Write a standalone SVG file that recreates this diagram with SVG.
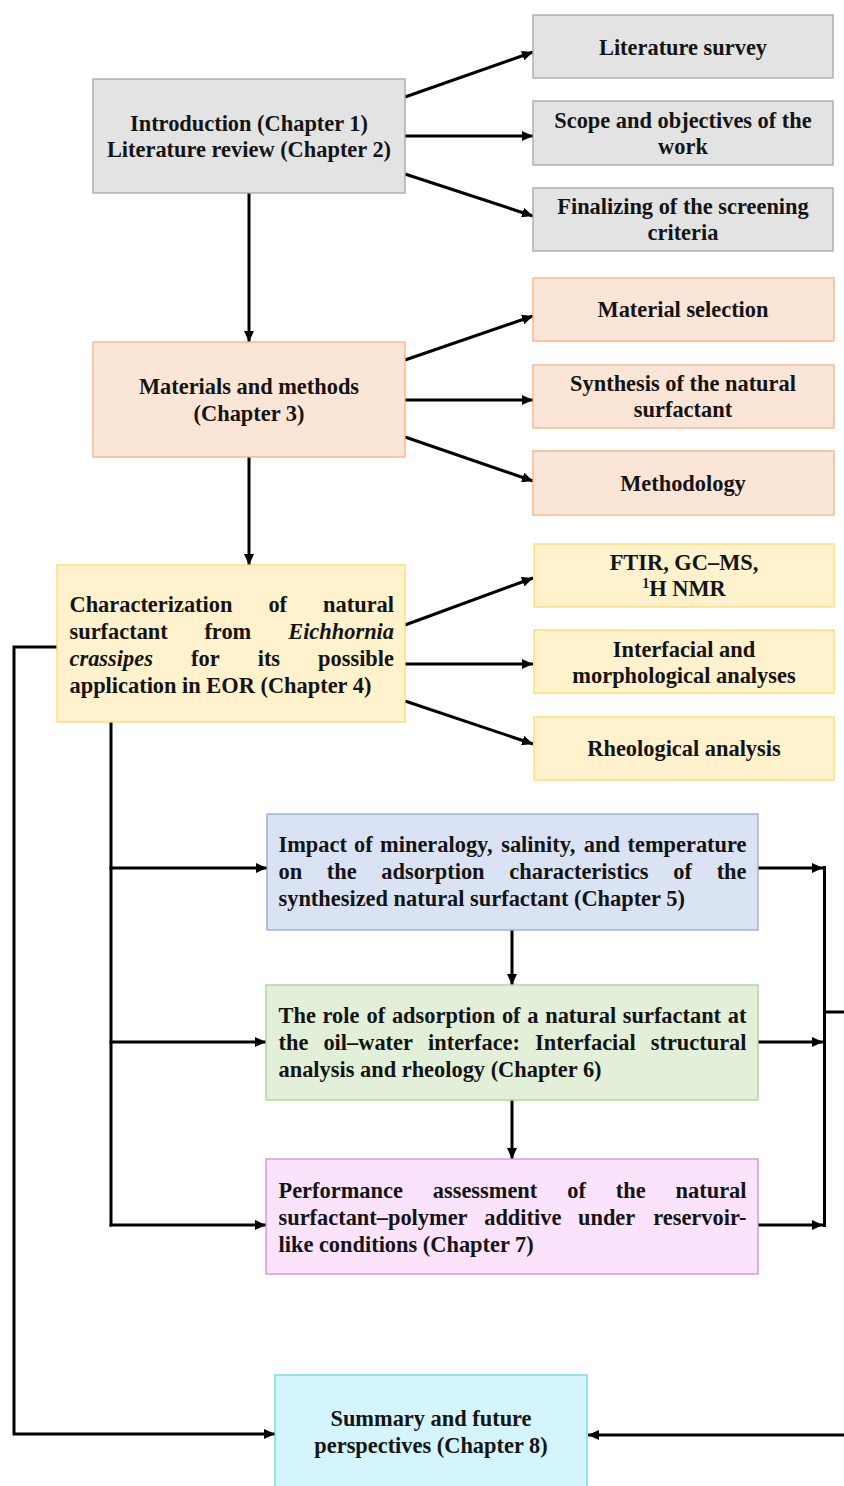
<svg xmlns="http://www.w3.org/2000/svg" width="844" height="1486" viewBox="0 0 844 1486">
<style>
.t{font-family:"Liberation Serif","Times New Roman",serif;font-weight:bold;font-size:22.4px;fill:#141414}
.c{text-anchor:middle}
.e{text-anchor:end}
.i{font-style:italic}
.b{stroke-width:1.3}
.gray{fill:#e4e3e3;stroke:#a6a6a6}
.peach{fill:#fbe5d6;stroke:#f4b183}
.yel{fill:#fff2cc;stroke:#ffd966}
.blue{fill:#dae3f3;stroke:#8faadc}
.green{fill:#e2f0d9;stroke:#a9d18e}
.pink{fill:#fbe3fb;stroke:#d58bd5}
.cyan{fill:#d3f5fb;stroke:#6dd3e3}
.ln{stroke:#000;stroke-width:3;fill:none}
.ar{marker-end:url(#ah)}
</style>
<defs>
<marker id="ah" markerUnits="userSpaceOnUse" markerWidth="11" markerHeight="10" refX="11" refY="5" orient="auto">
<path d="M0,0 L11,5 L0,10 z" fill="#000"/>
</marker>
</defs>
<rect width="844" height="1486" fill="#fff"/>

<g id="connectors">
<line class="ln ar" x1="405" y1="97" x2="533" y2="52"/>
<line class="ln ar" x1="405" y1="136" x2="533" y2="136"/>
<line class="ln ar" x1="405" y1="174" x2="533" y2="216"/>
<line class="ln ar" x1="249" y1="193" x2="249" y2="342"/>
<line class="ln ar" x1="405" y1="360" x2="533" y2="316"/>
<line class="ln ar" x1="405" y1="400" x2="533" y2="400"/>
<line class="ln ar" x1="405" y1="437" x2="533" y2="481"/>
<line class="ln ar" x1="249" y1="457" x2="249" y2="565"/>
<line class="ln ar" x1="405" y1="625" x2="533" y2="578"/>
<line class="ln ar" x1="405" y1="664" x2="533" y2="664"/>
<line class="ln ar" x1="405" y1="701" x2="533" y2="744"/>
<polyline class="ln ar" points="57,647 14,647 14,1434 275,1434"/>
<line class="ln" x1="111" y1="722" x2="111" y2="1226.5"/>
<line class="ln ar" x1="109.5" y1="868" x2="267" y2="868"/>
<line class="ln ar" x1="109.5" y1="1042" x2="266" y2="1042"/>
<line class="ln ar" x1="109.5" y1="1225" x2="266" y2="1225"/>
<line class="ln ar" x1="512" y1="930" x2="512" y2="985"/>
<line class="ln ar" x1="512" y1="1100" x2="512" y2="1159"/>
<line class="ln ar" x1="758" y1="868" x2="823" y2="868"/>
<line class="ln ar" x1="758" y1="1042" x2="823" y2="1042"/>
<line class="ln ar" x1="758" y1="1225" x2="823" y2="1225"/>
<line class="ln" x1="824.5" y1="866" x2="824.5" y2="1227"/>
<line class="ln" x1="824.5" y1="1012" x2="844" y2="1012"/>
<line class="ln ar" x1="844" y1="1435" x2="588" y2="1435"/>
</g>

<g id="intro">
<rect class="b gray" x="93" y="79" width="312" height="114"/>
<text class="t c" x="249" y="131">Introduction (Chapter 1)</text>
<text class="t c" x="249" y="157">Literature review (Chapter 2)</text>
</g>
<g id="lit-survey">
<rect class="b gray" x="533" y="15" width="300" height="63"/>
<text class="t c" x="683" y="55">Literature survey</text>
</g>
<g id="scope">
<rect class="b gray" x="533" y="101" width="300" height="64"/>
<text class="t c" x="683" y="128">Scope and objectives of the</text>
<text class="t c" x="683" y="154">work</text>
</g>
<g id="finalizing">
<rect class="b gray" x="533" y="188" width="300" height="63"/>
<text class="t c" x="683" y="214">Finalizing of the screening</text>
<text class="t c" x="683" y="240">criteria</text>
</g>

<g id="materials-methods">
<rect class="b peach" x="93" y="342" width="312" height="115"/>
<text class="t c" x="249" y="394">Materials and methods</text>
<text class="t c" x="249" y="421">(Chapter 3)</text>
</g>
<g id="material-selection">
<rect class="b peach" x="533" y="278" width="301" height="63"/>
<text class="t c" x="683" y="317">Material selection</text>
</g>
<g id="synthesis">
<rect class="b peach" x="533" y="365" width="301" height="63"/>
<text class="t c" x="683" y="391">Synthesis of the natural</text>
<text class="t c" x="683" y="417">surfactant</text>
</g>
<g id="methodology">
<rect class="b peach" x="533" y="451" width="301" height="64"/>
<text class="t c" x="683" y="491">Methodology</text>
</g>

<g id="characterization">
<rect class="b yel" x="57" y="565" width="348" height="157"/>
<text class="t" x="69.5" y="612">Characterization</text>
<text class="t" x="268.4" y="612">of</text>
<text class="t e" x="394" y="612">natural</text>
<text class="t" x="69.5" y="639">surfactant</text>
<text class="t" x="204.4" y="639">from</text>
<text class="t e i" x="394" y="639">Eichhornia</text>
<text class="t i" x="69.5" y="666">crassipes</text>
<text class="t" x="191" y="666">for</text>
<text class="t" x="257.7" y="666">its</text>
<text class="t e" x="394" y="666">possible</text>
<text class="t" x="69.5" y="693">application in EOR (Chapter 4)</text>
</g>
<g id="ftir">
<rect class="b yel" x="534" y="544" width="300" height="63"/>
<text class="t c" x="684" y="570">FTIR, GC–MS,</text>
<text class="t c" x="684" y="596"><tspan font-size="14" dy="-8">1</tspan><tspan dy="8">H NMR</tspan></text>
</g>
<g id="interfacial">
<rect class="b yel" x="534" y="630" width="300" height="63"/>
<text class="t c" x="684" y="657">Interfacial and</text>
<text class="t c" x="684" y="683">morphological analyses</text>
</g>
<g id="rheological">
<rect class="b yel" x="534" y="717" width="300" height="63"/>
<text class="t c" x="684" y="756">Rheological analysis</text>
</g>

<g id="chapter5">
<rect class="b blue" x="267" y="814" width="491" height="116"/>
<text class="t" x="278.5" y="852">Impact</text>
<text class="t" x="354.1" y="852">of</text>
<text class="t" x="380.1" y="852">mineralogy,</text>
<text class="t" x="501.2" y="852">salinity,</text>
<text class="t" x="583.8" y="852">and</text>
<text class="t e" x="746.5" y="852">temperature</text>
<text class="t" x="278.5" y="879">on</text>
<text class="t" x="326.8" y="879">the</text>
<text class="t" x="381.3" y="879">adsorption</text>
<text class="t" x="509.3" y="879">characteristics</text>
<text class="t" x="673.2" y="879">of</text>
<text class="t e" x="746.5" y="879">the</text>
<text class="t" x="278.5" y="906">synthesized natural surfactant (Chapter 5)</text>
</g>

<g id="chapter6">
<rect class="b green" x="266" y="985" width="492" height="115"/>
<text class="t" x="278.5" y="1023">The</text>
<text class="t" x="322.5" y="1023">role</text>
<text class="t" x="366.5" y="1023">of</text>
<text class="t" x="391.9" y="1023">adsorption</text>
<text class="t" x="501.9" y="1023">of</text>
<text class="t" x="527.3" y="1023">a</text>
<text class="t" x="545.2" y="1023">natural</text>
<text class="t" x="622.8" y="1023">surfactant</text>
<text class="t e" x="746.5" y="1023">at</text>
<text class="t" x="278.5" y="1050">the</text>
<text class="t" x="323.4" y="1050">oil–water</text>
<text class="t" x="428" y="1050">interface:</text>
<text class="t" x="535" y="1050">Interfacial</text>
<text class="t e" x="746.5" y="1050">structural</text>
<text class="t" x="278.5" y="1077">analysis and rheology (Chapter 6)</text>
</g>

<g id="chapter7">
<rect class="b pink" x="266" y="1159" width="492" height="115"/>
<text class="t" x="278.5" y="1198">Performance</text>
<text class="t" x="432.8" y="1198">assessment</text>
<text class="t" x="567.2" y="1198">of</text>
<text class="t" x="615.8" y="1198">the</text>
<text class="t e" x="746.5" y="1198">natural</text>
<text class="t" x="278.5" y="1225">surfactant–polymer</text>
<text class="t" x="484.2" y="1225">additive</text>
<text class="t" x="578" y="1225">under</text>
<text class="t e" x="746.5" y="1225">reservoir-</text>
<text class="t" x="278.5" y="1252">like conditions (Chapter 7)</text>
</g>

<g id="chapter8">
<rect class="b cyan" x="275" y="1375" width="312" height="125"/>
<text class="t c" x="431" y="1426">Summary and future</text>
<text class="t c" x="431" y="1453">perspectives (Chapter 8)</text>
</g>
</svg>
